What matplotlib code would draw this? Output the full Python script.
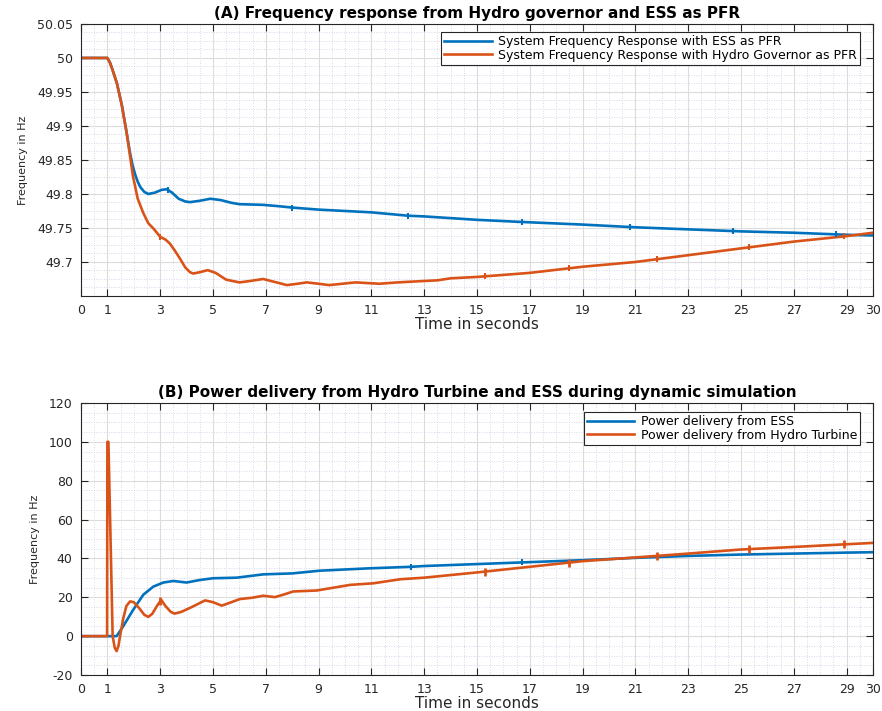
import numpy as np
import matplotlib
matplotlib.use("Agg")
import matplotlib.pyplot as plt
from matplotlib.ticker import MultipleLocator

plt.rcParams['font.family'] = ['DejaVu Sans']
plt.rcParams['axes.unicode_minus'] = False

# ---------------- data: panel A (frequency) ----------------
tA_ess = [0, 1.0, 1.1, 1.2, 1.36, 1.55, 1.73, 1.85, 1.95, 2.05, 2.15, 2.25, 2.4, 2.55,
          2.8, 3.05, 3.25, 3.45, 3.7, 3.95, 4.13, 4.5, 4.9, 5.3, 5.7, 6.0, 6.9, 7.5,
          8.0, 9, 11, 12.4, 13, 15, 16.6, 19, 21, 23, 25, 27, 29, 30]
fA_ess = [50, 50, 49.993, 49.982, 49.963, 49.93, 49.89, 49.862, 49.843, 49.829, 49.818,
          49.810, 49.803, 49.800, 49.802, 49.806, 49.807, 49.802, 49.793, 49.789, 49.788,
          49.790, 49.793, 49.791, 49.787, 49.785, 49.784, 49.782, 49.780, 49.777,
          49.773, 49.768, 49.767, 49.762, 49.759, 49.755, 49.751, 49.748, 49.745,
          49.743, 49.740, 49.739]

tA_hyd = [0, 1.0, 1.1, 1.2, 1.36, 1.55, 1.73, 1.97, 2.15, 2.36, 2.55, 2.75, 3.0, 3.2,
          3.37, 3.55, 3.75, 3.95, 4.13, 4.25, 4.5, 4.8, 5.1, 5.5, 6.0, 6.4, 6.9, 7.3,
          7.8, 8.2, 8.55, 9.0, 9.4, 9.9, 10.4, 11.3, 12.0, 12.96, 13.5, 14, 15, 17,
          19, 21, 23, 25, 27, 29, 30]
fA_hyd = [50, 50, 49.993, 49.982, 49.963, 49.93, 49.89, 49.826, 49.793, 49.772, 49.757,
          49.749, 49.737, 49.733, 49.727, 49.717, 49.705, 49.692, 49.685, 49.683,
          49.685, 49.688, 49.684, 49.674, 49.670, 49.672, 49.675, 49.671, 49.666,
          49.668, 49.670, 49.668, 49.666, 49.668, 49.670, 49.668, 49.670, 49.672,
          49.673, 49.676, 49.678, 49.684, 49.693, 49.700, 49.710, 49.720, 49.730,
          49.738, 49.743]

# small sample markers seen on the traces
mA_ess = [3.3, 8.0, 12.4, 16.7, 20.8, 24.7, 28.6]
mA_hyd = [3.0, 15.3, 18.5, 21.8, 25.3, 28.9]

# ---------------- data: panel B (power) ----------------
tB_ess = [0, 1.35, 1.6, 1.98, 2.36, 2.74, 3.12, 3.5, 4.0, 4.5, 5.0, 5.9, 6.9, 8.0,
          9.05, 10.9, 12.5, 13, 15, 17, 19, 21, 23, 25, 27, 29, 30]
pB_ess = [0, 0, 5.1, 13.6, 21.3, 25.5, 27.6, 28.4, 27.6, 28.9, 29.8, 30.1, 31.8, 32.3,
          33.7, 34.9, 35.7, 36.1, 37.1, 38.1, 39.1, 40.3, 41.3, 42.0, 42.5, 43.0, 43.2]

tB_hyd = [0, 0.99, 1.0, 1.04, 1.2, 1.28, 1.35, 1.42, 1.48, 1.6, 1.72, 1.86, 2.0, 2.2,
          2.4, 2.55, 2.7, 2.9, 3.04, 3.2, 3.4, 3.55, 3.8, 4.2, 4.7, 5.0, 5.33, 5.6,
          6.02, 6.5, 6.9, 7.35, 7.7, 8.04, 8.93, 10.2, 11.07, 12.1, 13, 15, 17, 19,
          21, 23, 25, 27, 29, 30]
pB_hyd = [0, 0, 100, 100, 0, -6, -7.7, -5, 0, 9, 15.5, 17.9, 17.5, 14.5, 11, 9.9,
          11.5, 16, 18.7, 15.5, 12.5, 11.6, 12.5, 15, 18.4, 17.5, 15.7, 17, 19.1, 19.8,
          20.8, 20.1, 21.5, 23, 23.5, 26.4, 27.2, 29.3, 30.1, 32.8, 35.7, 38.6, 40.5,
          42.5, 44.6, 45.9, 47.3, 48.0]

mB_ess = [12.5, 16.7]
mB_hyd = [3.0, 15.3, 18.5, 21.8, 25.3, 28.9]

xticks = [0, 1, 3, 5, 7, 9, 11, 13, 15, 17, 19, 21, 23, 25, 27, 29, 30]
yticksA = [49.7, 49.75, 49.8, 49.85, 49.9, 49.95, 50, 50.05]
yticklabelsA = ['49.7', '49.75', '49.8', '49.85', '49.9', '49.95', '50', '50.05']
yticksB = [-20, 0, 20, 40, 60, 80, 100, 120]

BLUE = '#0072BD'
ORANGE = '#D95319'
AXC = '#262626'

fig = plt.figure(figsize=(8.82, 7.11), dpi=100)
axA = fig.add_axes([0.0918, 0.5837, 0.898, 0.3826])
axB = fig.add_axes([0.0918, 0.0506, 0.898, 0.3826])


def style(ax, ylim, yticks, yminor, ylabels=None):
    ax.set_xlim(0, 30)
    ax.set_ylim(*ylim)
    ax.set_xticks(xticks)
    ax.set_yticks(yticks)
    if ylabels is not None:
        ax.set_yticklabels(ylabels)
    ax.xaxis.set_minor_locator(MultipleLocator(0.5))
    ax.yaxis.set_minor_locator(MultipleLocator(yminor))
    ax.grid(True, which='major', color='#dcdcdc', lw=0.8)
    ax.grid(True, which='minor', color='#c9cde3', lw=0.6, ls=(0, (1, 2)))
    ax.set_axisbelow(True)
    ax.tick_params(which='major', direction='in', length=5, width=0.8, colors=AXC,
                   top=True, right=True, labelsize=9, pad=6)
    ax.tick_params(which='minor', length=0, top=True, right=True)
    for s in ax.spines.values():
        s.set_color(AXC)
        s.set_linewidth(0.8)
    ax.set_xlabel('Time in seconds', fontsize=11, color=AXC, labelpad=0)
    ax.set_ylabel('Frequency in Hz', fontsize=8, color=AXC, labelpad=6)


def legend(ax, y):
    leg = ax.legend(loc='upper right', bbox_to_anchor=(0.9836, y), borderaxespad=0,
                    fontsize=9, handlelength=3.8, handletextpad=0.5, labelspacing=0.05,
                    borderpad=0.25, fancybox=False, framealpha=1, edgecolor=AXC)
    leg.get_frame().set_linewidth(0.8)
    return leg


# panel A
axA.plot(tA_ess, fA_ess, color=BLUE, lw=1.9,
         label='System Frequency Response with ESS as PFR')
axA.plot(tA_hyd, fA_hyd, color=ORANGE, lw=1.9,
         label='System Frequency Response with Hydro Governor as PFR')
axA.plot(mA_ess, np.interp(mA_ess, tA_ess, fA_ess), ls='none', marker='|',
         ms=4, mew=1.5, color=BLUE)
axA.plot(mA_hyd, np.interp(mA_hyd, tA_hyd, fA_hyd), ls='none', marker='|',
         ms=4, mew=1.5, color=ORANGE)
style(axA, (49.65, 50.05), yticksA, 0.0125, yticklabelsA)
axA.set_title('(A) Frequency response from Hydro governor and ESS as PFR',
              fontsize=11, fontweight='bold', color='black', pad=4)
legend(axA, 0.9706)

# panel B
axB.plot(tB_ess, pB_ess, color=BLUE, lw=1.9, label='Power delivery from ESS')
axB.plot(tB_hyd, pB_hyd, color=ORANGE, lw=1.9, label='Power delivery from Hydro Turbine')
axB.plot(mB_ess, np.interp(mB_ess, tB_ess, pB_ess), ls='none', marker='|',
         ms=4, mew=1.5, color=BLUE)
axB.plot(mB_hyd, np.interp(mB_hyd, tB_hyd, pB_hyd), ls='none', marker='|',
         ms=6, mew=2, color=ORANGE)
style(axB, (-20, 120), yticksB, 5)
axB.set_title('(B) Power delivery from Hydro Turbine and ESS during dynamic simulation',
              fontsize=11, fontweight='bold', color='black', pad=4)
legend(axB, 0.967)

fig.savefig('out.png', dpi=100)
